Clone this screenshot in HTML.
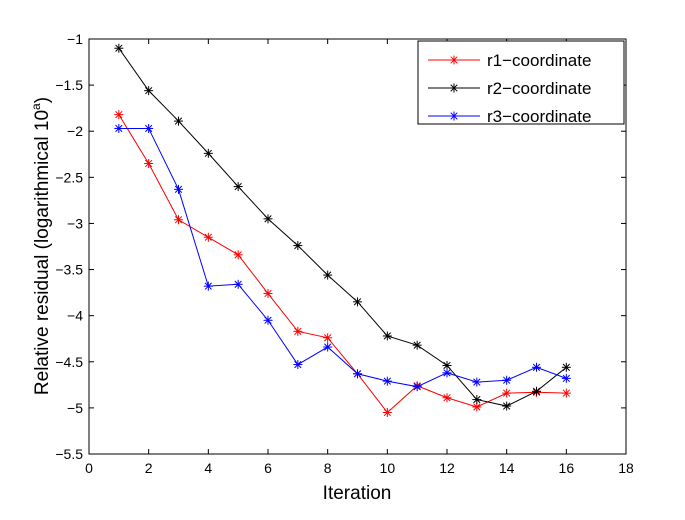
<!DOCTYPE html>
<html><head><meta charset="utf-8"><style>
body{margin:0;background:#fff;width:685px;height:515px;overflow:hidden}
svg{font-family:"Liberation Sans",sans-serif}
</style></head><body>
<svg id="chart" width="685" height="515"></svg>
<script>
const iterations=[1,2,3,4,5,6,7,8,9,10,11,12,13,14,15,16];
const r1Values=[-1.82,-2.35,-2.96,-3.15,-3.34,-3.76,-4.17,-4.24,-4.63,-5.05,-4.76,-4.89,-4.99,-4.84,-4.83,-4.84];
const r2Values=[-1.1,-1.56,-1.89,-2.24,-2.6,-2.95,-3.24,-3.56,-3.85,-4.22,-4.32,-4.54,-4.91,-4.98,-4.82,-4.56];
const r3Values=[-1.97,-1.97,-2.63,-3.68,-3.66,-4.05,-4.53,-4.34,-4.63,-4.71,-4.77,-4.62,-4.72,-4.7,-4.56,-4.68];
const xTicks=[0,2,4,6,8,10,12,14,16,18];
const yTicks=[-1,-1.5,-2,-2.5,-3,-3.5,-4,-4.5,-5,-5.5];
const seriesNames=["r1\u2212coordinate","r2\u2212coordinate","r3\u2212coordinate"];

const NS="http://www.w3.org/2000/svg";
const svg=document.getElementById('chart');
const L=89,R=626,T=39,B=454;
const xs=v=>L+(v-0)/18*(R-L);
const ys=v=>T+(-1-v)/4.5*(B-T);
function mk(tag,attrs,parent){const e=document.createElementNS(NS,tag);for(const k in attrs)e.setAttribute(k,attrs[k]);(parent||svg).appendChild(e);return e;}

const box=mk('rect',{x:L,y:T,width:R-L,height:B-T,fill:'none',stroke:'#000','stroke-width':1});



xTicks.forEach(t=>{
  const x=xs(t);
  const g=mk('g',{});
  
  
  mk('line',{x1:x,x2:x,y1:B,y2:B-5,stroke:'#000'},g);
  mk('line',{x1:x,x2:x,y1:T,y2:T+5,stroke:'#000'},g);
  const tx=mk('text',{x:x,y:B+19,'text-anchor':'middle','font-size':14},g);
  tx.textContent=String(t);
});
yTicks.forEach(t=>{
  const y=ys(t);
  const g=mk('g',{});
  
  
  mk('line',{x1:L,x2:L+5,y1:y,y2:y,stroke:'#000'},g);
  mk('line',{x1:R,x2:R-5,y1:y,y2:y,stroke:'#000'},g);
  const tx=mk('text',{x:L-6,y:y+5,'text-anchor':'end','font-size':14},g);
  tx.textContent=String(t).replace('-','\u2212');
});

const xt=mk('text',{x:357,y:499,'text-anchor':'middle','font-size':19});
xt.textContent='Iteration';


const yt=mk('text',{x:0,y:0,'text-anchor':'middle','font-size':19,transform:'translate(48,246) rotate(-90)'});


yt.innerHTML='Relative residual (logarithmical 10<tspan dy="-8" font-size="12">a</tspan><tspan dy="8">)</tspan>';

function star(g,x,y,c){
  const s=4.5;
  mk('line',{x1:x-s,x2:x+s,y1:y,y2:y,stroke:c},g);
  mk('line',{x1:x,x2:x,y1:y-s,y2:y+s,stroke:c},g);
  mk('line',{x1:x-3.3,x2:x+3.3,y1:y-3.3,y2:y+3.3,stroke:c},g);
  mk('line',{x1:x-3.3,x2:x+3.3,y1:y+3.3,y2:y-3.3,stroke:c},g);
}
const colors=['#ff0000','#000000','#0000ff'];
[r1Values,r2Values,r3Values].forEach((vals,i)=>{
  const g=mk('g',{});
  
  
  mk('polyline',{points:vals.map((v,j)=>xs(iterations[j])+','+ys(v)).join(' '),fill:'none',stroke:colors[i],'stroke-width':1},g);
  vals.forEach((v,j)=>star(g,xs(iterations[j]),ys(v),colors[i]));
});

const lg=mk('g',{});


mk('rect',{x:418,y:41,width:206,height:83,fill:'#fff',stroke:'#000'},lg);
seriesNames.forEach((n,i)=>{
  const y=60+i*28;
  const e=mk('g',{},lg);
  
  
  mk('line',{x1:428,x2:480,y1:y,y2:y,stroke:colors[i]},e);
  star(e,454,y,colors[i]);
  const t=mk('text',{x:487,y:y+6,'font-size':17},e);
  t.textContent=n;
});
</script>
</body></html>
